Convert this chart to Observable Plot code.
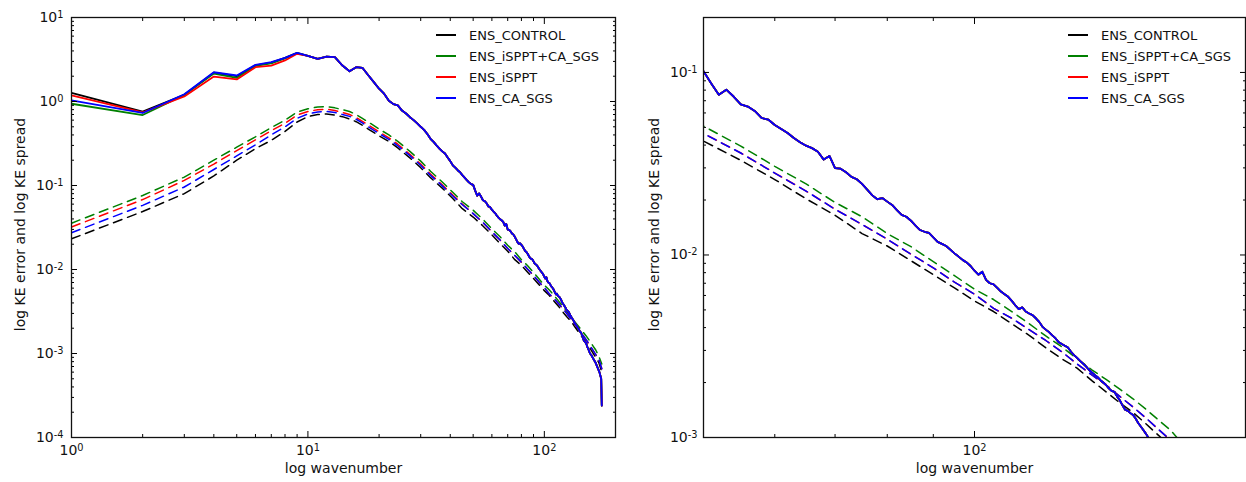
<!DOCTYPE html>
<html>
<head>
<meta charset="utf-8">
<script src="https://cdn.jsdelivr.net/npm/d3@7"></script>
<script src="https://cdn.jsdelivr.net/npm/@observablehq/plot@0.6"></script>
<style>
  body { margin: 0; background: #fff; }
  #wrap { position: relative; width: 1246px; height: 482px; display: flex; font-family: "DejaVu Sans", sans-serif; }
  .legend { position: absolute; top: 24.5px; font-size: 13px; color: #111; }
  .row { height: 21px; display: flex; align-items: center; white-space: nowrap; }
  .sw { display: inline-block; width: 20px; height: 2px; margin-right: 13px; }
</style>
</head>
<body>
<div id="wrap"></div>
<script>
// ---------- series ----------
const seriesNames = ["ENS_CONTROL", "ENS_iSPPT+CA_SGS", "ENS_iSPPT", "ENS_CA_SGS"];
const seriesColors = ["#000000", "#008000", "#ff0000", "#0000ff"];

// ---------- solid lines: log KE error ----------
const kSolid = [
  1, 2, 3, 4, 5, 6, 7, 8, 9,
  10, 11, 12, 13, 14, 15, 16, 17, 18, 19,
  20, 21, 22, 23, 24, 25, 26, 27, 28, 29,
  30, 31, 32, 33, 34, 35, 36, 37, 38, 39,
  40, 41, 42, 43, 44, 45, 46, 47, 48, 49,
  50, 51, 52, 53, 54, 55, 56, 57, 58, 59,
  60, 61, 62, 63, 64, 65, 66, 67, 68, 69,
  70, 71, 72, 73, 74, 75, 76, 77, 78, 79,
  80, 81, 82, 83, 84, 85, 86, 87, 88, 89,
  90, 91, 92, 93, 94, 95, 96, 97, 98, 99,
  100, 101, 102, 103, 104, 105, 106, 107, 108, 109,
  110, 111, 112, 113, 114, 115, 116, 117, 118, 119,
  120, 121, 122, 123, 124, 125, 126, 127, 128, 129,
  130, 131, 132, 133, 134, 135, 136, 137, 138, 139,
  140, 141, 142, 143, 144, 145, 146, 147, 148, 149,
  150, 151, 152, 153, 154, 155, 156,
  158, 161, 165, 168, 171, 174, 175
];
// k = 1..9, where the four runs differ
const errLowControl  = [1.27, 0.76, 1.20, 2.20, 2.00, 2.70, 2.90, 3.30, 3.80];
const errLowCombined = [0.94, 0.69, 1.20, 2.15, 1.91, 2.65, 2.85, 3.25, 3.75];
const errLowIsppt    = [1.18, 0.74, 1.15, 1.98, 1.83, 2.56, 2.68, 3.08, 3.70];
const errLowCasgs    = [1.03, 0.73, 1.22, 2.23, 2.04, 2.73, 2.94, 3.31, 3.80];
// k >= 10, where the four runs lie on top of each other
const errShared = [
  3.5, 3.22, 3.43, 3.37, 2.68, 2.29, 2.56, 2.52, 2.05, 1.7,
  1.42, 1.24, 1.02, 0.93, 0.9, 0.78, 0.72, 0.65, 0.6, 0.55,
  0.5, 0.46, 0.41, 0.36, 0.33, 0.3, 0.275, 0.255, 0.24, 0.215,
  0.195, 0.174, 0.163, 0.152, 0.144, 0.133, 0.124, 0.116, 0.109, 0.104,
  0.1016, 0.087, 0.0755, 0.0805, 0.0738, 0.0668, 0.065, 0.0615, 0.0563, 0.0552,
  0.0515, 0.049, 0.0466, 0.0437, 0.0415, 0.0397, 0.0385, 0.0368, 0.0333, 0.0349,
  0.0299, 0.0297, 0.0284, 0.0268, 0.026, 0.0245, 0.0228, 0.0212, 0.0202, 0.0205,
  0.0196, 0.0188, 0.0176, 0.0166, 0.0162, 0.0154, 0.0145, 0.0137, 0.0134, 0.0132,
  0.0125, 0.0118, 0.0115, 0.0112, 0.0107, 0.0102, 0.0098, 0.0094, 0.0091, 0.0087,
  0.0082, 0.0078, 0.0081, 0.0073, 0.007, 0.0069, 0.0066, 0.0063, 0.0061, 0.0059,
  0.0056, 0.0053, 0.00505, 0.00516, 0.0049, 0.00478, 0.00468, 0.0045, 0.0043, 0.00404,
  0.0039, 0.00378, 0.00363, 0.0035, 0.00333, 0.00325, 0.00318, 0.00311, 0.00295, 0.00283,
  0.00273, 0.00263, 0.00254, 0.00245, 0.00235, 0.00227, 0.0022, 0.00214, 0.00206, 0.002,
  0.00194, 0.00186, 0.0018, 0.00178, 0.00168, 0.0016, 0.0015, 0.00142, 0.0014, 0.00136,
  0.00133, 0.00127, 0.0012, 0.00115, 0.0011, 0.00105, 0.001,
  0.00096, 0.00087, 0.00077, 0.00068, 0.0006, 0.0005, 0.00024
];

// ---------- dashed lines: log KE spread ----------
const kSpread = [1, 2, 3, 4, 5, 6, 7, 8, 9, 10, 11, 12, 13, 14, 15, 16, 17, 18, 20, 22, 24, 27, 30, 33, 37, 41, 45,
  50, 55, 60, 65, 70, 75, 80, 85, 90, 95, 100, 105, 110, 115, 120, 125, 130, 135, 140, 145, 150, 155, 160, 165, 170, 175];
const spreadControl = [0.0232, 0.049, 0.08, 0.13, 0.2, 0.275, 0.345, 0.44, 0.57, 0.66, 0.7, 0.71, 0.69, 0.66, 0.62, 0.575, 0.52, 0.47, 0.39, 0.335, 0.28, 0.213, 0.163, 0.124, 0.093, 0.07, 0.053,
  0.0421, 0.033, 0.0259, 0.0203, 0.0165, 0.0131, 0.0112, 0.0093, 0.0078, 0.0066, 0.0056, 0.0049, 0.0042, 0.00363, 0.0031, 0.0027, 0.0024, 0.00205, 0.00178, 0.00155, 0.00137, 0.00119, 0.00103, 0.0009, 0.00078, 0.0006];
const spreadCombined = [0.0356, 0.076, 0.126, 0.2, 0.286, 0.38, 0.49, 0.6, 0.75, 0.82, 0.86, 0.87, 0.84, 0.8, 0.76, 0.7, 0.63, 0.57, 0.47, 0.4, 0.335, 0.255, 0.195, 0.148, 0.11, 0.083, 0.064,
  0.0508, 0.0395, 0.0306, 0.0245, 0.0194, 0.0162, 0.0131, 0.0111, 0.0092, 0.0077, 0.0065, 0.0057, 0.0049, 0.0042, 0.0036, 0.00314, 0.0027, 0.00235, 0.00208, 0.00184, 0.00163, 0.00143, 0.00125, 0.0011, 0.00093, 0.00075];
const spreadIsppt = [0.032, 0.068, 0.115, 0.18, 0.26, 0.35, 0.45, 0.55, 0.69, 0.76, 0.8, 0.81, 0.78, 0.74, 0.7, 0.645, 0.58, 0.525, 0.435, 0.37, 0.31, 0.235, 0.18, 0.137, 0.102, 0.077, 0.06,
  0.0463, 0.0362, 0.0281, 0.0224, 0.0178, 0.0147, 0.0122, 0.0101, 0.0085, 0.0071, 0.0061, 0.0051, 0.0045, 0.0039, 0.0034, 0.00295, 0.00253, 0.0022, 0.00194, 0.00168, 0.00147, 0.00128, 0.00111, 0.00097, 0.00085, 0.00066];
const spreadCasgs = [0.0274, 0.058, 0.096, 0.155, 0.225, 0.305, 0.4, 0.5, 0.63, 0.71, 0.75, 0.76, 0.74, 0.7, 0.665, 0.615, 0.555, 0.5, 0.415, 0.355, 0.297, 0.227, 0.174, 0.132, 0.099, 0.075, 0.059,
  0.0463, 0.0362, 0.0281, 0.0224, 0.0178, 0.0147, 0.0122, 0.0101, 0.0085, 0.0071, 0.0061, 0.0051, 0.0045, 0.0039, 0.0034, 0.00295, 0.00253, 0.0022, 0.00194, 0.00168, 0.00147, 0.00128, 0.00111, 0.00097, 0.00085, 0.00066];

// ---------- ticks ----------
const leftXMajor = [1, 10, 100];
const leftXMinor = [2, 3, 4, 5, 6, 7, 8, 9, 20, 30, 40, 50, 60, 70, 80, 90, 200];
const leftYMajor = [1e-4, 1e-3, 1e-2, 1e-1, 1, 10];
const leftYMinor = [2e-4, 3e-4, 4e-4, 5e-4, 6e-4, 7e-4, 8e-4, 9e-4, 2e-3, 3e-3, 4e-3, 5e-3, 6e-3, 7e-3, 8e-3, 9e-3,
  2e-2, 3e-2, 4e-2, 5e-2, 6e-2, 7e-2, 8e-2, 9e-2, 0.2, 0.3, 0.4, 0.5, 0.6, 0.7, 0.8, 0.9, 2, 3, 4, 5, 6, 7, 8, 9];
const rightXMajor = [100];
const rightXMinor = [50, 60, 70, 80, 90, 200];
const rightYMajor = [1e-3, 1e-2, 1e-1];
const rightYMinor = [2e-3, 3e-3, 4e-3, 5e-3, 6e-3, 7e-3, 8e-3, 9e-3, 2e-2, 3e-2, 4e-2, 5e-2, 6e-2, 7e-2, 8e-2, 9e-2, 0.2];

const xLabel = "log wavenumber";
const yLabel = "log KE error and log KE spread";

// ---------- build tables ----------
const errLow = [errLowControl, errLowCombined, errLowIsppt, errLowCasgs];
const spreads = [spreadControl, spreadCombined, spreadIsppt, spreadCasgs];
const errRows = errLow.map(low => low.concat(errShared).map((v, i) => ({k: kSolid[i], v})));
const spreadRows = spreads.map(vals => vals.map((v, i) => ({k: kSpread[i], v})));

const FONT = "DejaVu Sans";
const supMap = {"-": "\u207B", "0": "\u2070", "1": "\u00B9", "2": "\u00B2", "3": "\u00B3", "4": "\u2074"};
const fmt = d => "10" + String(Math.round(Math.log10(d))).split("").map(c => supMap[c]).join("");
const blank = () => "";

function inwardTicks(axisFn, ticks, anchor, size) {
  const off = (anchor === "bottom" || anchor === "right") ? -size : size;
  const o = {anchor, tickSize: size, tickFormat: blank, label: null, strokeWidth: 1, stroke: "#000"};
  if (anchor === "bottom" || anchor === "top") o.dy = off; else o.dx = off;
  return axisFn(ticks, o);
}

function panel(cfg) {
  const marks = [];
  spreadRows.forEach((d, i) => marks.push(Plot.line(d, {x: "k", y: "v", stroke: seriesColors[i], strokeWidth: 1.5, strokeDasharray: "9,6", clip: true})));
  errRows.forEach((d, i) => marks.push(Plot.line(d, {x: "k", y: "v", stroke: seriesColors[i], strokeWidth: 1.8, clip: true})));
  for (const a of ["bottom", "top"]) {
    marks.push(inwardTicks(Plot.axisX, cfg.xMajor, a, 6));
    marks.push(inwardTicks(Plot.axisX, cfg.xMinor, a, 3));
  }
  for (const a of ["left", "right"]) {
    marks.push(inwardTicks(Plot.axisY, cfg.yMajor, a, 6));
    marks.push(inwardTicks(Plot.axisY, cfg.yMinor, a, 3));
  }
  marks.push(Plot.axisX(cfg.xMajor, {anchor: "bottom", tickSize: 0, tickPadding: 8, tickFormat: fmt, label: null, fontSize: 14, fontFamily: FONT, fill: "#111"}));
  marks.push(Plot.axisY(cfg.yMajor, {anchor: "left", tickSize: 0, tickPadding: cfg.padY, tickFormat: fmt, label: null, fontSize: 14, fontFamily: FONT, fill: "#111"}));
  marks.push(Plot.text([xLabel], {text: d => d, frameAnchor: "bottom", dy: 35, fontSize: 14, fontFamily: FONT, fill: "#111"}));
  marks.push(Plot.text([yLabel], {text: d => d, frameAnchor: "left", textAnchor: "middle", dx: cfg.yLabelDx, dy: -3, rotate: -90, fontSize: 14, fontFamily: FONT, fill: "#111"}));
  marks.push(Plot.frame({stroke: "#111", strokeWidth: 1.3}));
  const svg = Plot.plot({
    width: 623, height: 482,
    marginLeft: cfg.ml, marginRight: cfg.mr, marginTop: 17, marginBottom: 45,
    style: {fontFamily: FONT, fontSize: "14px", background: "#fff", overflow: "visible"},
    x: {type: "log", domain: cfg.xDomain, label: null},
    y: {type: "log", domain: cfg.yDomain, label: null},
    marks
  });
  // render the exponent of tick labels as a raised, smaller tspan (mathtext-like)
  const back = {"\u207B": "-", "\u2070": "0", "\u00B9": "1", "\u00B2": "2", "\u00B3": "3", "\u2074": "4"};
  svg.querySelectorAll("text").forEach(t => {
    const m = t.textContent.match(/^10([\u207B\u2070\u00B9\u00B2\u00B3\u2074]+)$/);
    if (!m) return;
    const exp = m[1].split("").map(c => back[c]).join("");
    while (t.firstChild) t.removeChild(t.firstChild);
    t.appendChild(document.createTextNode("10"));
    const ts = document.createElementNS("http://www.w3.org/2000/svg", "tspan");
    ts.setAttribute("dy", "-0.42em");
    ts.setAttribute("font-size", "70%");
    ts.textContent = exp;
    t.appendChild(ts);
  });
  return svg;
}

const wrap = document.getElementById("wrap");
wrap.appendChild(panel({ml: 71, mr: 8, xDomain: [1, 200], yDomain: [1e-4, 10], xMajor: leftXMajor, xMinor: leftXMinor, yMajor: leftYMajor, yMinor: leftYMinor, padY: 8, yLabelDx: -50.5}));
wrap.appendChild(panel({ml: 80, mr: 1, xDomain: [50, 200], yDomain: [1e-3, 0.2], xMajor: rightXMajor, xMinor: rightXMinor, yMajor: rightYMajor, yMinor: rightYMinor, padY: 6, yLabelDx: -48.5}));

function legend(left) {
  const div = document.createElement("div");
  div.className = "legend";
  div.style.left = left + "px";
  seriesNames.forEach((name, i) => {
    const row = document.createElement("div");
    row.className = "row";
    const sw = document.createElement("span");
    sw.className = "sw";
    sw.style.background = seriesColors[i];
    const t = document.createElement("span");
    t.textContent = name;
    row.appendChild(sw); row.appendChild(t);
    div.appendChild(row);
  });
  wrap.appendChild(div);
}
legend(436);
legend(1068);
</script>
</body>
</html>
